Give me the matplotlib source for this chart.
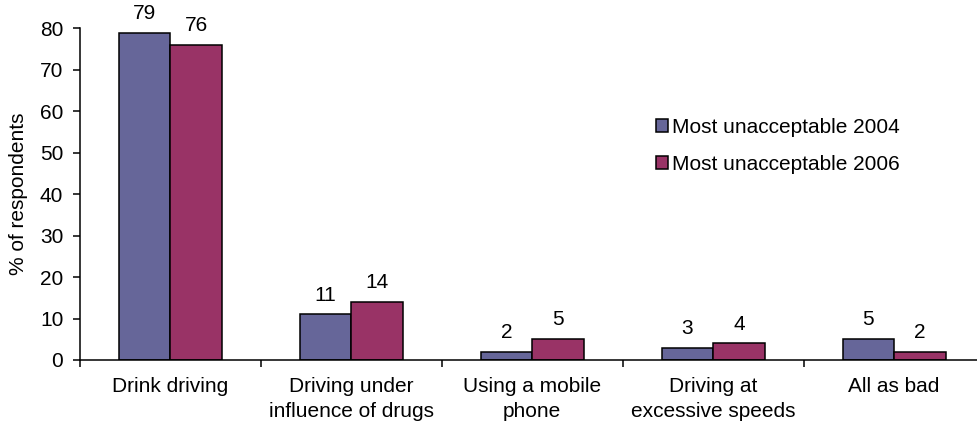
import matplotlib.pyplot as plt
import numpy as np

categories = ['Drink driving', 'Driving under\ninfluence of drugs', 'Using a mobile\nphone',
              'Driving at\nexcessive speeds', 'All as bad']
vals_2004 = [79, 11, 2, 3, 5]
vals_2006 = [76, 14, 5, 4, 2]
series_names = ['Most unacceptable 2004', 'Most unacceptable 2006']

plt.rcParams['font.family'] = ['Liberation Sans', 'DejaVu Sans']
plt.rcParams['font.size'] = 15

fig = plt.figure(figsize=(9.77, 4.29), dpi=100)
ax = fig.add_axes([0.0819, 0.161, 0.9258, 0.7726])

x = np.arange(len(categories)) + 0.5
w = 0.285
b1 = ax.bar(x - w / 2, vals_2004, w, color='#666699', edgecolor='black', linewidth=1.1, label=series_names[0])
b2 = ax.bar(x + w / 2, vals_2006, w, color='#993366', edgecolor='black', linewidth=1.1, label=series_names[1])

for bars, vals in [(b1, vals_2004), (b2, vals_2006)]:
    for rect, v in zip(bars, vals):
        ax.annotate(str(v), (rect.get_x() + rect.get_width() / 2, v), xytext=(0, 7),
                    textcoords='offset points', ha='center', va='bottom')

ax.set_xlim(0, len(categories))
ax.set_ylim(0, 80)
ax.set_yticks(range(0, 81, 10))
ax.set_xticks(range(len(categories) + 1))
ax.set_xticklabels([])
ax.set_xticks(x, minor=True)
ax.set_xticklabels(categories, minor=True, linespacing=1.45)
ax.tick_params(axis='x', which='minor', length=0, pad=12)
ax.tick_params(axis='x', which='major', length=5, width=1.1, direction='out')
ax.tick_params(axis='y', length=5, width=1.1, direction='out', pad=7)

for s in ['top', 'right']:
    ax.spines[s].set_visible(False)
for s in ['left', 'bottom']:
    ax.spines[s].set_linewidth(1.1)

ax.set_ylabel('% of respondents')
ax.yaxis.set_label_coords(-0.0575, 0.5)

ax.legend(loc='upper left', bbox_to_anchor=(0.6366, 0.73), frameon=False,
          handlelength=0.6, handleheight=0.6, handletextpad=0.2, labelspacing=0.85,
          borderpad=0, borderaxespad=0)

fig.savefig('out.png', dpi=100)
